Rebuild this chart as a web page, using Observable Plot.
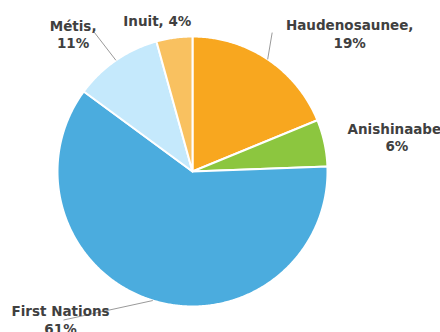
<!DOCTYPE html>
<html>
<head>
<meta charset="utf-8">
<script src="https://cdn.jsdelivr.net/npm/d3@7"></script>
<script src="https://cdn.jsdelivr.net/npm/@observablehq/plot@0.6"></script>
<style>
  html, body { margin: 0; padding: 0; background: #fff; }
  svg { display: block; }
</style>
</head>
<body>
<div id="chart"></div>
<script>
// ---- data ----
const names = ["Haudenosaunee", "Anishinaabe", "First Nations", "Métis", "Inuit"];
const shares = [18.8, 5.6, 60.7, 10.6, 4.3];
const pctLabels = ["19%", "6%", "61%", "11%", "4%"];
const colors = ["#F8A71F", "#8CC63F", "#4BACDE", "#C5E9FC", "#F9C160"];

// ---- layout (screen px) ----
const W = 440, H = 332, cx = 192, cy = 171, R = 135;
const fs = 13.5;
// label centre offsets from the slice's outer mid point, and leader-line end offsets
const layout = {
  "Haudenosaunee": { text: n => n + ",\n", lab: [82, -25.8], line: [4.5, -26.8] },
  "Anishinaabe":   { text: n => n + ",\n", lab: [72.5, -5.5], line: null },
  "First Nations": { text: n => n + "\n",  lab: [-92.3, 19], line: [-89.3, 19.5] },
  "Métis":         { text: n => n + ",\n", lab: [-42.8, -26.7], line: [-22.3, -28.9] },
  "Inuit":         { text: n => n + ", ",  lab: [-17, -17.5], line: null }
};

const arcs = d3.pie().sort(null).value(d => d)(shares);

// slice polygons in data units (1 unit = 1px, y up)
const polys = [];
arcs.forEach((a, i) => {
  polys.push({ name: names[i], color: colors[i], x: 0, y: 0 });
  const steps = Math.max(4, Math.ceil((a.endAngle - a.startAngle) / (Math.PI / 360)));
  for (let k = 0; k <= steps; k++) {
    const t = a.startAngle + (a.endAngle - a.startAngle) * k / steps;
    polys.push({ name: names[i], color: colors[i], x: R * Math.sin(t), y: R * Math.cos(t) });
  }
});

const labels = arcs.map((a, i) => {
  const m = (a.startAngle + a.endAngle) / 2;
  const ex = R * Math.sin(m), ey = R * Math.cos(m);
  const L = layout[names[i]];
  return {
    name: names[i],
    text: L.text(names[i]) + pctLabels[i],
    ex, ey,
    lx: ex + L.lab[0], ly: ey - L.lab[1],
    line: L.line ? { x2: ex + L.line[0], y2: ey - L.line[1] } : null
  };
});
const links = labels.filter(d => d.line).map(d => ({ x1: d.ex, y1: d.ey, x2: d.line.x2, y2: d.line.y2 }));

const chart = Plot.plot({
  width: W,
  height: H,
  margin: 0,
  x: { domain: [-R, R], range: [cx - R, cx + R], axis: null },
  y: { domain: [-R, R], range: [cy + R, cy - R], axis: null },
  color: { type: "identity" },
  style: { fontFamily: "'DejaVu Sans', sans-serif", fontSize: fs + "px", fontWeight: 700, overflow: "hidden", background: "#fff" },
  marks: [
    Plot.line(polys, { x: "x", y: "y", z: "name", fill: "color", stroke: "#fff", strokeWidth: 2, curve: "linear-closed", strokeLinejoin: "round" }),
    Plot.link(links, { x1: "x1", y1: "y1", x2: "x2", y2: "y2", stroke: "#9a9a9a", strokeWidth: 1 }),
    Plot.text(labels, { x: "lx", y: "ly", text: "text", fill: "#404040", textAnchor: "middle", lineHeight: 1.27, fontWeight: 700 })
  ]
});
document.getElementById("chart").appendChild(chart);
</script>
</body>
</html>
